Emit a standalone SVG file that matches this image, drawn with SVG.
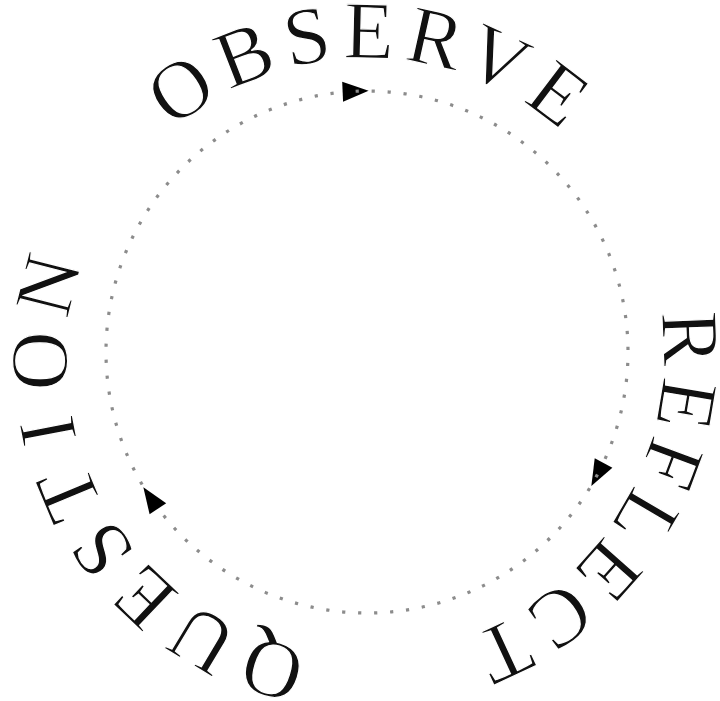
<svg xmlns="http://www.w3.org/2000/svg" width="720" height="701" viewBox="0 0 720 701">
<style>
.lbl{font-family:"Liberation Serif","Times New Roman",serif;font-size:82px;fill:#111;stroke:#fff;stroke-width:1.2px;}
.arc{fill:none;stroke:#8c8c8c;stroke-width:3.2;stroke-dasharray:3.2 12.8;marker-end:url(#arr);}
</style>
<defs>
<path id="ring" d="M107.8,208.5 A297,297 0 1,1 622.2,505.5 A297,297 0 1,1 107.8,208.5"/>
<marker id="arr" markerUnits="userSpaceOnUse" markerWidth="32" markerHeight="32" viewBox="-16 -16 32 32" refX="0" refY="0" orient="auto"><path d="M13,0 L-13,-10 L-13,10 Z" fill="#000"/></marker>
</defs>
<rect width="720" height="701" fill="#fff"/>
<g id="connectors">
<path class="arc" d="M150.62,497.95 A261,261 0 0,1 355.62,91.25"/>
<path class="arc" d="M355.62,91.25 A261,261 0 0,1 597.45,474.53"/>
<path class="arc" d="M597.45,474.53 A261,261 0 0,1 150.62,497.95"/>
</g>
<g id="observe"><text class="lbl" letter-spacing="9.5"><textPath href="#ring" startOffset="102.1">OBSERVE</textPath></text></g>
<g id="reflect"><text class="lbl" letter-spacing="8.4"><textPath href="#ring" startOffset="736.2">REFLECT</textPath></text></g>
<g id="question"><text class="lbl" letter-spacing="11"><textPath href="#ring" startOffset="1305.2">QUES<tspan letter-spacing="22">TI</tspan>ON</textPath></text></g>
</svg>
